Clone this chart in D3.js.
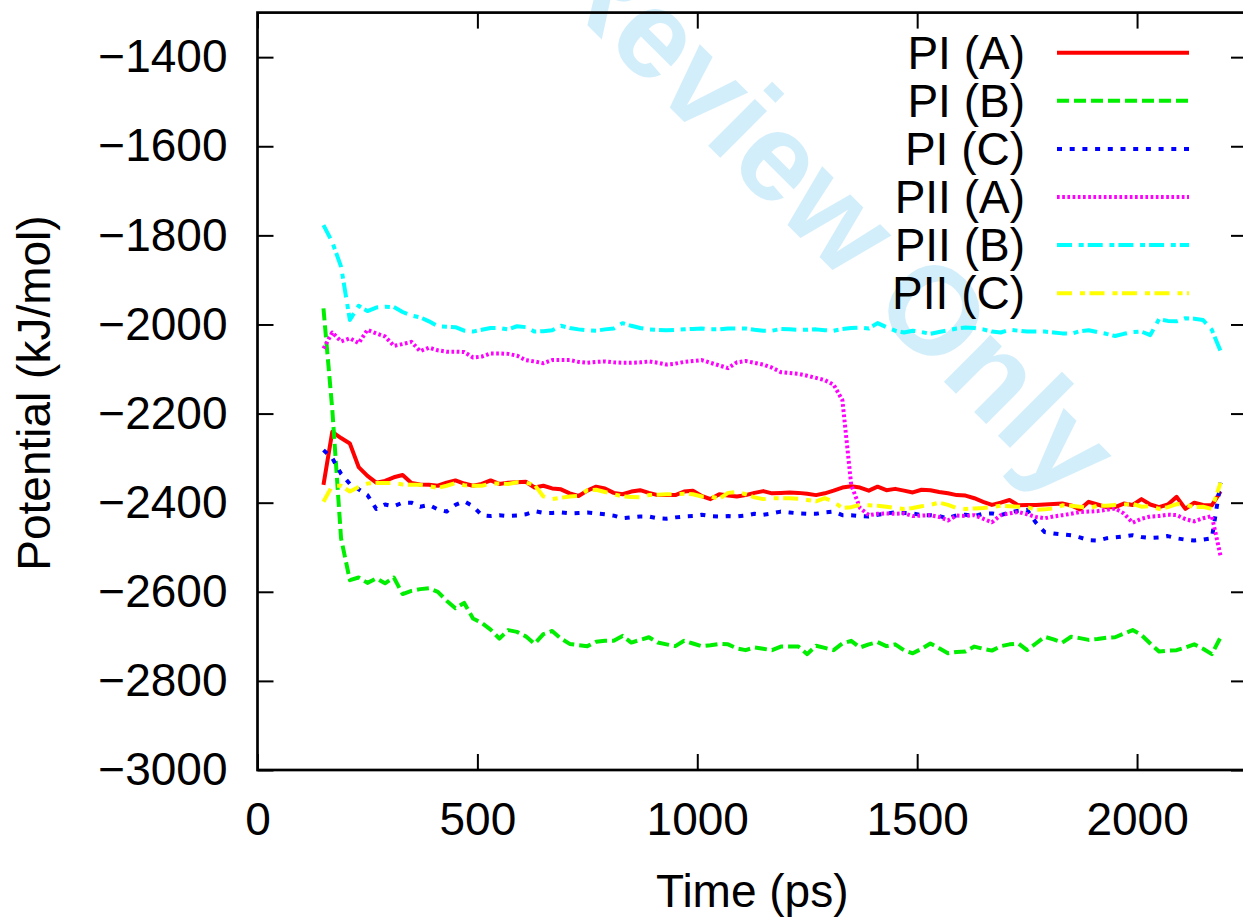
<!DOCTYPE html>
<html>
<head>
<meta charset="utf-8">
<script src="https://cdnjs.cloudflare.com/ajax/libs/d3/7.8.5/d3.min.js"></script>
<style>
  body { margin: 0; background: #fff; }
  svg { display: block; }
</style>
</head>
<body>
<div id="chart"></div>
<script>
// time (ps)
var times = [
  150, 170, 190, 210, 230, 250, 270, 290, 310, 330,
  350, 370, 390, 410, 430, 450, 470, 490, 510, 530,
  550, 570, 590, 610, 630, 650, 670, 690, 710, 730,
  750, 770, 790, 810, 830, 850, 870, 890, 910, 930,
  950, 970, 990, 1010, 1030, 1050, 1070, 1090, 1110, 1130,
  1150, 1170, 1190, 1210, 1230, 1250, 1270, 1290, 1310, 1330,
  1350, 1370, 1390, 1410, 1430, 1450, 1470, 1490, 1510, 1530,
  1550, 1570, 1590, 1610, 1630, 1650, 1670, 1690, 1710, 1730,
  1750, 1770, 1790, 1810, 1830, 1850, 1870, 1890, 1910, 1930,
  1950, 1970, 1990, 2010, 2030, 2050, 2070, 2090, 2110, 2130,
  2150, 2170, 2190
];

var piA = [
  -2360, -2241, -2255, -2267, -2320, -2340, -2355, -2351, -2343, -2338,
  -2356, -2359, -2360, -2362, -2355, -2350, -2357, -2362, -2358, -2350,
  -2358, -2355, -2354, -2353, -2366, -2362, -2368, -2370, -2379, -2385,
  -2373, -2364, -2368, -2378, -2381, -2375, -2372, -2378, -2383, -2383,
  -2383, -2375, -2373, -2385, -2392, -2381, -2384, -2386, -2383, -2378,
  -2374, -2379, -2378, -2377, -2378, -2380, -2383, -2379, -2373, -2366,
  -2363, -2366, -2373, -2364, -2372, -2369, -2373, -2377, -2371, -2372,
  -2376, -2379, -2383, -2384, -2390, -2398, -2405, -2400, -2394, -2406,
  -2405, -2405, -2404, -2403, -2402, -2406, -2415, -2398, -2404, -2410,
  -2410, -2402, -2405, -2392, -2404, -2410, -2404, -2387, -2414, -2400,
  -2405, -2406, -2375
];

var piB = [
  -1964, -2190, -2480, -2574, -2568, -2580, -2570, -2581, -2568, -2605,
  -2598, -2594, -2592, -2600, -2620, -2637, -2625, -2660, -2670, -2685,
  -2705, -2686, -2690, -2700, -2717, -2695, -2688, -2705, -2717, -2720,
  -2722, -2712, -2710, -2710, -2699, -2714, -2708, -2702, -2714, -2718,
  -2722, -2710, -2716, -2722, -2720, -2717, -2718, -2727, -2731, -2725,
  -2728, -2731, -2723, -2723, -2723, -2740, -2721, -2726, -2731, -2716,
  -2710, -2725, -2718, -2713, -2722, -2718, -2731, -2738, -2728, -2716,
  -2727, -2738, -2735, -2734, -2723, -2728, -2732, -2722, -2718, -2716,
  -2731, -2716, -2701, -2707, -2714, -2701, -2704, -2708, -2706, -2703,
  -2702, -2694, -2686, -2697, -2716, -2734, -2732, -2731, -2725, -2718,
  -2728, -2740, -2702
];

var piC = [
  -2282, -2300, -2335, -2358, -2370, -2383, -2414, -2404, -2408, -2400,
  -2400, -2409, -2405, -2415, -2420, -2405, -2397, -2408, -2428, -2430,
  -2428, -2430, -2429, -2426, -2419, -2423, -2423, -2422, -2424, -2423,
  -2422, -2424, -2426, -2429, -2435, -2433, -2431, -2431, -2435, -2436,
  -2433, -2431, -2430, -2427, -2430, -2431, -2430, -2431, -2429, -2425,
  -2427, -2424, -2420, -2422, -2424, -2425, -2425, -2422, -2420, -2428,
  -2428, -2430, -2431, -2427, -2424, -2422, -2423, -2424, -2428, -2428,
  -2430, -2435, -2428, -2427, -2430, -2425, -2424, -2428, -2422, -2418,
  -2416, -2445, -2466, -2469, -2471, -2473, -2478, -2484, -2485, -2480,
  -2478, -2476, -2473, -2477, -2479, -2478, -2475, -2480, -2483, -2485,
  -2483, -2480, -2355
];

var piiA = [
  -2054, -2018, -2038, -2031, -2042, -2012, -2020, -2027, -2048, -2044,
  -2039, -2060, -2052, -2058, -2061, -2061, -2062, -2074, -2072, -2065,
  -2065, -2066, -2070, -2080, -2083, -2087, -2080, -2080, -2080, -2084,
  -2086, -2084, -2083, -2085, -2086, -2086, -2085, -2083, -2086, -2090,
  -2088, -2084, -2082, -2080, -2086, -2092, -2098, -2085, -2082, -2086,
  -2090, -2097, -2107, -2109, -2111, -2115, -2120, -2125, -2135, -2170,
  -2360, -2412, -2428, -2425, -2424, -2425, -2424, -2430, -2429, -2428,
  -2432, -2440, -2429, -2430, -2428, -2436, -2444, -2428, -2424, -2421,
  -2426, -2432, -2435, -2431, -2428, -2425, -2421, -2420, -2419, -2416,
  -2413, -2424, -2445, -2436, -2431, -2430, -2427, -2428, -2437, -2442,
  -2435, -2430, -2520
];

var piiB = [
  -1777, -1815, -1870, -1990, -1958, -1970, -1962, -1960, -1961, -1972,
  -1980, -1984, -1993, -2004, -2005, -2006, -2014, -2016, -2012, -2008,
  -2008, -2011, -2004, -2006, -2016, -2015, -2013, -2003, -2008, -2011,
  -2013, -2014, -2011, -2009, -1997, -2003, -2008, -2011, -2012, -2013,
  -2012, -2011, -2010, -2009, -2011, -2011, -2009, -2009, -2009, -2012,
  -2014, -2014, -2010, -2011, -2012, -2012, -2011, -2013, -2014, -2010,
  -2008, -2007, -2009, -1997, -2006, -2014, -2018, -2014, -2017, -2021,
  -2017, -2013, -2009, -2007, -2008, -2011, -2016, -2018, -2012, -2014,
  -2016, -2016, -2016, -2018, -2020, -2021, -2015, -2013, -2017, -2021,
  -2026, -2021, -2017, -2016, -2024, -1988, -1992, -1993, -1986, -1987,
  -1990, -2012, -2060
];

var piiC = [
  -2398, -2362, -2362, -2375, -2365, -2357, -2356, -2356, -2356, -2359,
  -2360, -2360, -2363, -2367, -2362, -2356, -2361, -2362, -2362, -2357,
  -2357, -2358, -2354, -2355, -2360, -2386, -2392, -2389, -2386, -2385,
  -2372, -2371, -2376, -2381, -2386, -2387, -2388, -2383, -2382, -2381,
  -2381, -2380, -2381, -2386, -2386, -2391, -2378, -2376, -2381, -2388,
  -2392, -2390, -2390, -2390, -2391, -2394, -2397, -2390, -2398, -2412,
  -2410, -2405, -2406, -2407, -2409, -2412, -2414, -2412, -2408, -2405,
  -2400, -2405, -2412, -2414, -2413, -2412, -2410, -2407, -2408, -2409,
  -2410, -2416, -2415, -2413, -2406, -2407, -2409, -2412, -2407, -2407,
  -2405, -2404, -2403, -2409, -2408, -2414, -2410, -2403, -2405, -2410,
  -2409, -2414, -2355
];

var seriesNames = ["PI (A)", "PI (B)", "PI (C)", "PII (A)", "PII (B)", "PII (C)"];
var seriesValues = [piA, piB, piC, piiA, piiB, piiC];
var seriesColors = ["#ff0000", "#00ee00", "#0000ff", "#ff00ff", "#00ffff", "#ffff00"];
var seriesDash = [null, "12,5", "5,7.7", "2.7,2.5", "15,6.7,5,4", "15,8,5,4.5"];

var xTicks = [0, 500, 1000, 1500, 2000];
var yTicks = [-3000, -2800, -2600, -2400, -2200, -2000, -1800, -1600, -1400];

(function() {
  var width = 1243;
  var height = 917;
  var margin = { top: 12.6, left: 257.5 };
  var plotW = 989.5;
  var plotH = 757.4;
  var font = "'Liberation Sans', Arial, Helvetica, sans-serif";
  var fontSize = 46;

  var svg = d3.select("#chart").append("svg")
    .attr("width", width)
    .attr("height", height);

  // watermark
  svg.append("text")
    .attr("transform", "translate(751,125) rotate(45)")
    .attr("text-anchor", "middle")
    .attr("dy", "0.36em")
    .attr("font-family", font)
    .attr("font-weight", "bold")
    .attr("font-size", 125)
    .attr("fill", "#d3eefb")
    .text("For Review Only");

  var g = svg.append("g")
    .attr("transform", "translate(" + margin.left + "," + margin.top + ")");

  var x = d3.scaleLinear().domain([0, 2250]).range([0, plotW]);
  var y = d3.scaleLinear().domain([-3000, -1300]).range([plotH, 0]);
  var fmt = d3.format("d");

  g.append("clipPath").attr("id", "clip")
    .append("rect").attr("width", plotW).attr("height", plotH);

  // axes, ticks pointing inward like gnuplot
  var axBottom = g.append("g")
    .attr("transform", "translate(0," + plotH + ")")
    .call(d3.axisBottom(x).tickValues(xTicks).tickFormat(fmt).tickSize(-16).tickPadding(32));
  var axLeft = g.append("g")
    .call(d3.axisLeft(y).tickValues(yTicks).tickFormat(fmt).tickSize(-16).tickPadding(30));
  var axTop = g.append("g")
    .call(d3.axisTop(x).tickValues(xTicks).tickSize(-16).tickFormat(""));
  var axRight = g.append("g")
    .attr("transform", "translate(" + plotW + ",0)")
    .call(d3.axisRight(y).tickValues(yTicks).tickSize(-16).tickFormat(""));

  [axBottom, axLeft, axTop, axRight].forEach(function(a) {
    a.select(".domain").remove();
    a.selectAll("line").attr("stroke", "#000").attr("stroke-width", 2);
    a.selectAll("text")
      .attr("font-family", font)
      .attr("font-size", fontSize)
      .attr("fill", "#000");
  });

  var line = d3.line()
    .x(function(d, i) { return x(times[i]); })
    .y(function(d) { return y(d); });

  var lines = g.append("g").attr("clip-path", "url(#clip)");
  seriesValues.forEach(function(vals, k) {
    lines.append("path")
      .datum(vals)
      .attr("d", line)
      .attr("fill", "none")
      .attr("stroke", seriesColors[k])
      .attr("stroke-width", 4)
      .attr("stroke-linejoin", "round")
      .attr("stroke-dasharray", seriesDash[k]);
  });

  // frame
  g.append("rect")
    .attr("width", plotW)
    .attr("height", plotH)
    .attr("fill", "none")
    .attr("stroke", "#000")
    .attr("stroke-width", 2.7);

  // legend
  var legend = svg.append("g");
  seriesNames.forEach(function(name, k) {
    var ly = 52.7 + k * 48.1;
    legend.append("text")
      .attr("x", 1025)
      .attr("y", ly)
      .attr("dy", "0.35em")
      .attr("text-anchor", "end")
      .attr("font-family", font)
      .attr("font-size", fontSize)
      .text(name);
    legend.append("line")
      .attr("x1", 1057).attr("x2", 1189)
      .attr("y1", ly).attr("y2", ly)
      .attr("stroke", seriesColors[k])
      .attr("stroke-width", 4)
      .attr("stroke-dasharray", seriesDash[k]);
  });

  // axis titles
  svg.append("text")
    .attr("x", margin.left + plotW / 2)
    .attr("y", 907)
    .attr("text-anchor", "middle")
    .attr("font-family", font)
    .attr("font-size", fontSize)
    .text("Time (ps)");

  svg.append("text")
    .attr("transform", "translate(50,393) rotate(-90)")
    .attr("text-anchor", "middle")
    .attr("font-family", font)
    .attr("font-size", fontSize)
    .text("Potential (kJ/mol)");
})();
</script>
</body>
</html>
